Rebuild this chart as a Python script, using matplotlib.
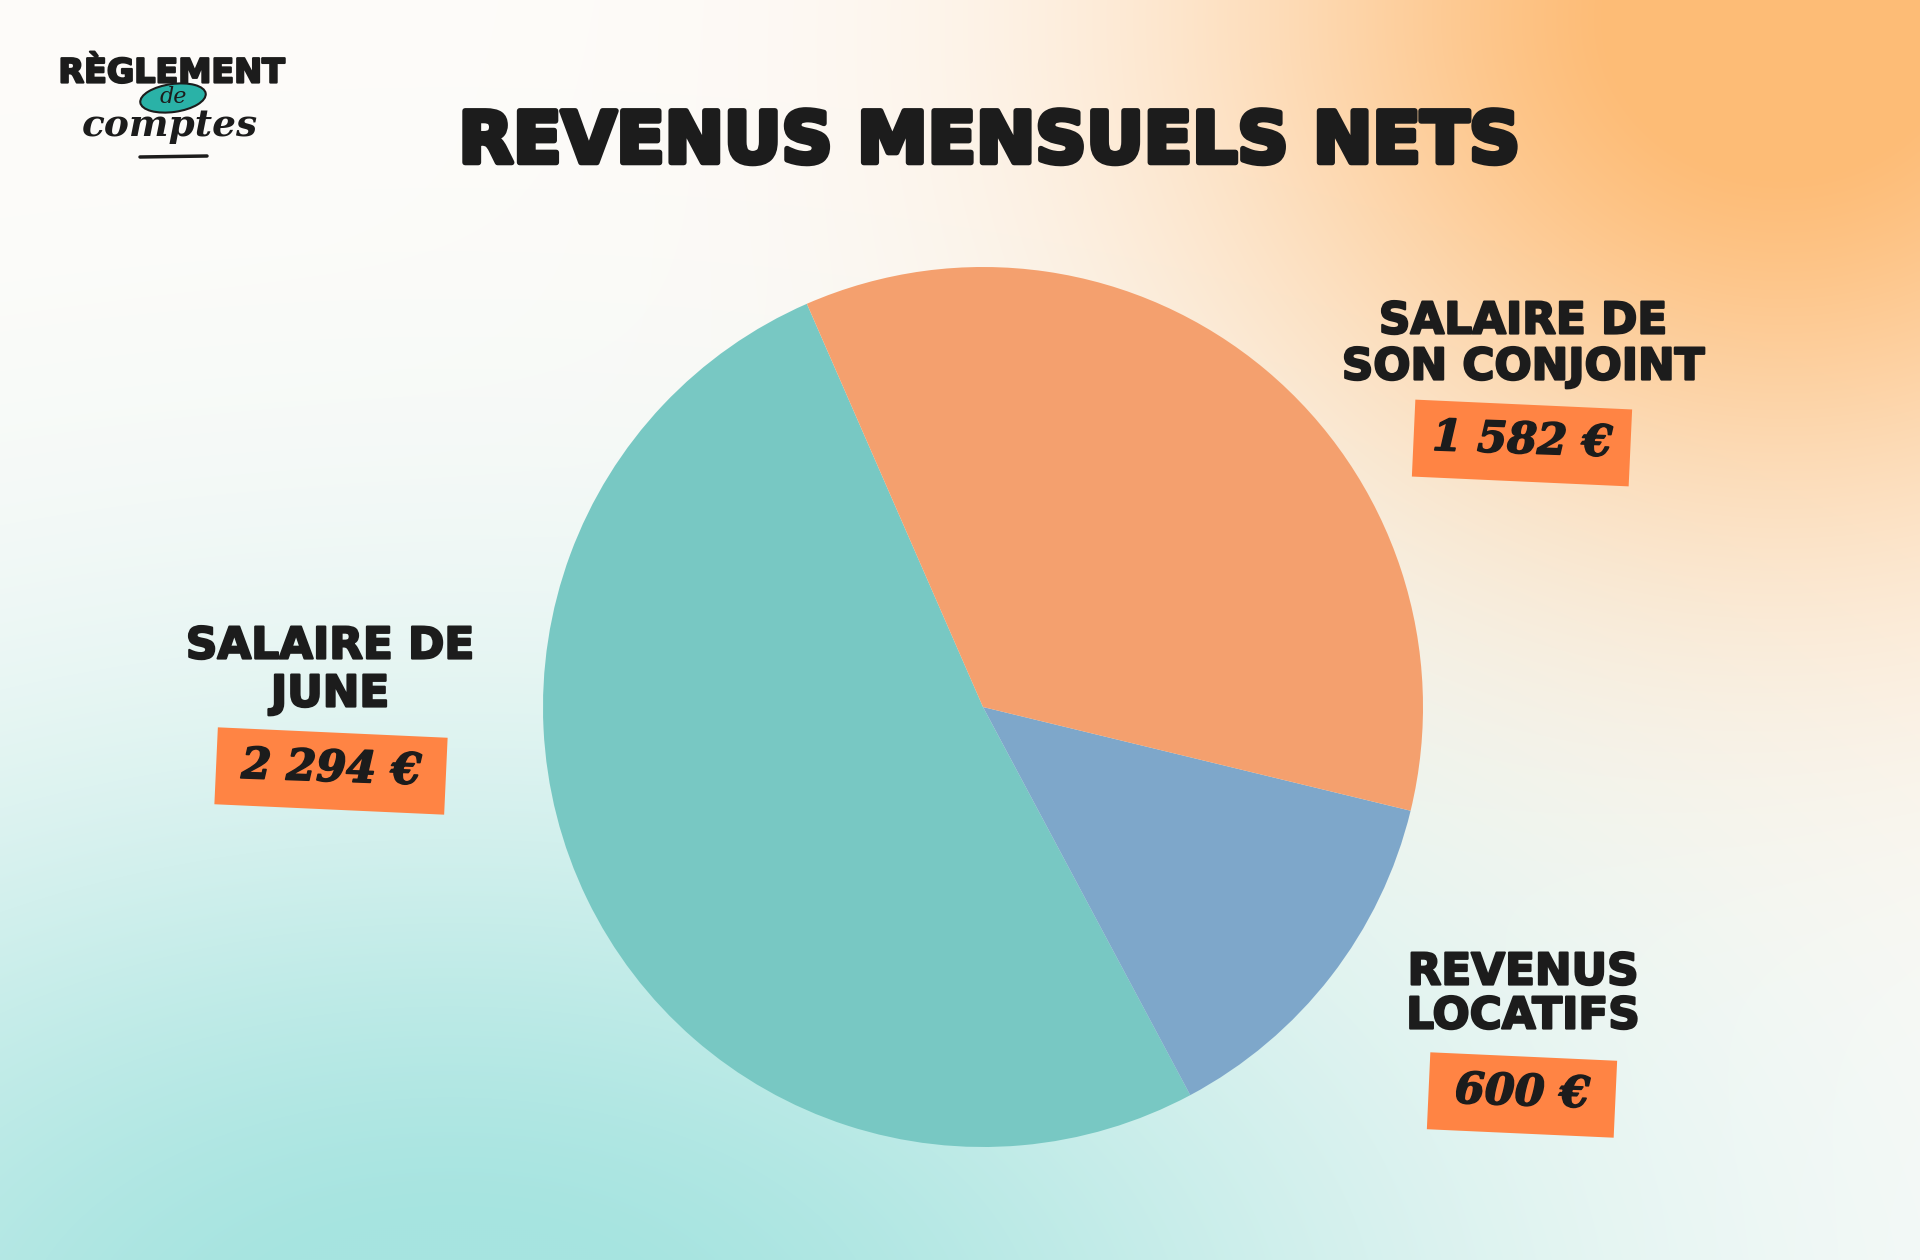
import matplotlib
matplotlib.use('Agg')
import matplotlib.pyplot as plt
import matplotlib.patheffects as pe
import numpy as np
from matplotlib.patches import Rectangle, Ellipse

# Données
labels = [['SALAIRE DE', 'JUNE'], ['REVENUS', 'LOCATIFS'], ['SALAIRE DE', 'SON CONJOINT']]
values = [2294, 600, 1582]
value_text = ['2 294 €', '600 €', '1 582 €']
colors = ['#78C8C3', '#7EA7CA', '#F4A06E']

W, H = 1920, 1260
INK = '#1C1C1C'
BOX = '#FF8444'

fig = plt.figure(figsize=(19.2, 12.6), dpi=100)
ax = fig.add_axes([0, 0, 1, 1])

# Fond dégradé (orange en haut à droite, turquoise en bas à gauche)
yy, xx = np.mgrid[0:H:2, 0:W:2].astype(float)
w_or = np.exp(-((xx - 1780) ** 2 / (2 * 400 ** 2) + (yy - 20) ** 2 / (2 * 360 ** 2)))
w_or = np.clip(w_or * 1.1, 0, 1)
w_te = np.exp(-((xx - 450) ** 2 / (2 * 720 ** 2) + (yy - 1350) ** 2 / (2 * 420 ** 2)))
w_te = np.clip(w_te * 1.05, 0, 1)
base = np.array([254, 252, 250]) / 255
orange = np.array([254, 188, 118]) / 255
teal = np.array([166, 228, 224]) / 255
img = base[None, None, :] * np.ones(xx.shape + (3,))
img = img * (1 - w_or[..., None]) + orange * w_or[..., None]
img = img * (1 - w_te[..., None]) + teal * w_te[..., None]
ax.imshow(img, extent=[0, W, 0, H], origin='upper', interpolation='bilinear', zorder=0)

# Camembert
cx, cy, r = 983, H - 707, 440
ax.pie(values, colors=colors, startangle=113.6, counterclock=True,
       center=(cx, cy), radius=r, frame=True,
       wedgeprops=dict(linewidth=0))

thick = [pe.withStroke(linewidth=1.6, foreground=INK)]

# Étiquettes (x, y des deux lignes, centre de la boîte)
label_pos = [(330, 646, 694, 331, 771, 230),
             (1523, 972, 1016, 1522, 1095, 187),
             (1523, 321, 367, 1522, 443, 217)]
for lab, val, (lx, y1, y2, bx, by, bw) in zip(labels, value_text, label_pos):
    ax.text(lx, H - y1, lab[0], ha='center', va='center', fontsize=31.5,
            fontweight='bold', color=INK, zorder=5, path_effects=thick)
    ax.text(lx, H - y2, lab[1], ha='center', va='center', fontsize=31.5,
            fontweight='bold', color=INK, zorder=5, path_effects=thick)
    bh = 77
    ax.add_patch(Rectangle((bx - bw / 2, H - by - bh / 2), bw, bh, angle=-2.6,
                           rotation_point='center', facecolor=BOX,
                           edgecolor='none', zorder=4))
    ax.text(bx, H - by + 2, val, ha='center', va='center', fontsize=31,
            family='DejaVu Serif', fontweight='bold', style='italic',
            rotation=-2, color=INK, zorder=5,
            path_effects=[pe.withStroke(linewidth=1.2, foreground=INK)])

# Titre
ax.text(990, H - 143, 'REVENUS MENSUELS NETS', ha='center', va='center',
        fontsize=51, fontweight='heavy', color=INK, zorder=5,
        path_effects=[pe.withStroke(linewidth=4, foreground=INK)])

# Logo
ax.text(172, H - 73, 'RÈGLEMENT', ha='center', va='center', fontsize=24,
        fontweight='bold', color=INK, zorder=6,
        path_effects=[pe.withStroke(linewidth=1.6, foreground=INK)])
ax.add_patch(Ellipse((173, H - 98), 66, 28, angle=8, facecolor='#2AB2A7',
                     edgecolor=INK, linewidth=1.5, zorder=6))
ax.text(173, H - 97, 'de', ha='center', va='center', fontsize=16,
        family='DejaVu Serif', style='italic', color=INK, zorder=7)
ax.text(170, H - 126, 'comptes', ha='center', va='center', fontsize=27,
        family='DejaVu Serif', fontweight='bold', style='italic', color=INK, zorder=7)
ax.plot([140, 207], [H - 157, H - 156], color=INK, lw=2.5,
        solid_capstyle='round', zorder=6)

ax.set_xlim(0, W)
ax.set_ylim(0, H)
ax.set_aspect('auto')
ax.axis('off')

fig.savefig('out.png', dpi=100)
plt.close(fig)
